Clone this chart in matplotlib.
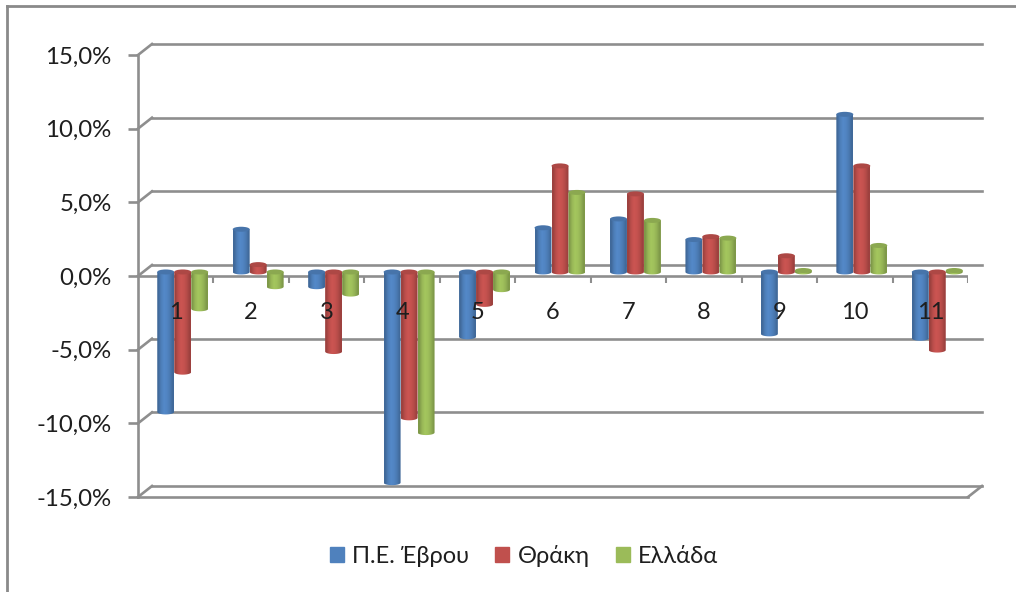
import numpy as np
import matplotlib
matplotlib.use("Agg")
import matplotlib.pyplot as plt
from matplotlib.lines import Line2D
from matplotlib.patches import Ellipse, Patch, PathPatch
from matplotlib.path import Path

plt.rcParams["font.family"] = ["Lato", "Open Sans", "DejaVu Sans"]

# data
categories = ["1", "2", "3", "4", "5", "6", "7", "8", "9", "10", "11"]
evros = [-9.5, 2.9, -1.0, -14.3, -4.4, 3.0, 3.6, 2.2, -4.2, 10.7, -4.5]
thraki = [-6.8, 0.5, -5.4, -9.9, -2.2, 7.2, 5.3, 2.4, 1.1, 7.2, -5.3]
ellada = [-2.5, -1.0, -1.5, -10.9, -1.2, 5.4, 3.5, 2.3, 0.1, 1.8, 0.1]
series_names = ["Π.Ε. Έβρου", "Θράκη", "Ελλάδα"]
y_ticks = [-15, -10, -5, 0, 5, 10, 15]
y_labels = ["-15,0%", "-10,0%", "-5,0%", "0,0%", "5,0%", "10,0%", "15,0%"]

colors = ["#4F81BD", "#C0504D", "#9BBB59"]
GRID = "#8E8E8E"
TEXT = "#1E1E1E"

W, H = 1016, 592
fig = plt.figure(figsize=(W / 100, H / 100), dpi=100)
ax = fig.add_axes([138 / W, 1 - 497 / H, (968 - 138) / W, (497 - 55) / H])
ax.set_xlim(0, 11)
ax.set_ylim(-15, 15)

# depth of the fake 3d box, in data units
DX, DY = 14 / 75.5, 11 / 14.73
BAR_W = 17 / 75.5
CAP_H = 5 / 14.73

# back wall and side wall
for t in y_ticks:
    ax.plot([DX, 11 + DX], [t + DY, t + DY], color=GRID, lw=1.9, clip_on=False, zorder=1)
    ax.plot([0, DX], [t, t + DY], color=GRID, lw=1.9, clip_on=False, zorder=1)
ax.plot([11, 11 + DX], [-15, -15 + DY], color=GRID, lw=1.9, clip_on=False, zorder=1)

# front axis at zero, with tick marks between groups
ax.plot([0, 11], [0, 0], color=GRID, lw=1.9, zorder=2)
ax.vlines(np.arange(1, 12), -0.5, 0, color=GRID, lw=1.5, zorder=2)


def shade(color, f):
    rgb = np.array(matplotlib.colors.to_rgb(color))
    return np.clip(rgb * f, 0, 1)


def cylinder(x0, v, color):
    base = DY / 2 - 0.1
    y0, y1 = sorted([base, base + v])
    t = np.linspace(np.pi, 2 * np.pi, 30)
    xs = x0 + BAR_W / 2 + BAR_W / 2 * np.cos(t)
    ys = y0 + CAP_H / 2 * np.sin(t)
    verts = np.column_stack([np.r_[xs, x0 + BAR_W, x0], np.r_[ys, y1, y1]])
    verts = np.vstack([verts, verts[0]])
    body = PathPatch(Path(verts), fc="none", ec="none", zorder=3)
    ax.add_patch(body)
    grad = np.array([[shade(color, f) for f in (0.82, 0.98, 1.06, 1.03, 0.95, 0.82)]])
    im = ax.imshow(grad, extent=[x0, x0 + BAR_W, y0 - CAP_H, y1], aspect="auto",
                   interpolation="bilinear", zorder=3)
    im.set_clip_path(body)
    cap = Ellipse((x0 + BAR_W / 2, y1), BAR_W, CAP_H, fc=shade(color, 0.9), ec="none", zorder=3)
    ax.add_patch(cap)


for i in range(len(categories)):
    center = i + 0.5 + DX / 2
    for j, vals in enumerate([evros, thraki, ellada]):
        cylinder(center + (j - 1.5) * BAR_W, vals[i], colors[j])
    ax.text(i + 0.5, -2.45, categories[i], ha="center", va="center", fontsize=17,
            color=TEXT, zorder=5)
ax.set_xlim(0, 11)
ax.set_ylim(-15, 15)

ax.set_yticks(y_ticks)
ax.set_yticklabels(y_labels, fontsize=17.3, color=TEXT)
ax.set_xticks([])
ax.tick_params(axis="y", length=7, width=1.9, color=GRID, pad=12)
for s in ["top", "right"]:
    ax.spines[s].set_visible(False)
for s in ["left", "bottom"]:
    ax.spines[s].set_color(GRID)
    ax.spines[s].set_linewidth(1.9)
ax.patch.set_alpha(0)

handles = [Patch(color=c, label=n) for c, n in zip(colors, series_names)]
fig.legend(handles=handles, loc="center", bbox_to_anchor=(524 / W, 1 - 556 / H), ncol=3,
           frameon=False, fontsize=17, handlelength=0.6, handleheight=0.6,
           handletextpad=0.35, columnspacing=1.1, labelcolor=TEXT)

# chart frame, only top and left show in the crop
fig.add_artist(Line2D([7 / W, 7 / W], [0, 1 - 6 / H], color="#8A8A8A", lw=2))
fig.add_artist(Line2D([7 / W, 1], [1 - 6 / H, 1 - 6 / H], color="#8A8A8A", lw=2))

fig.savefig("out.png", dpi=100)
